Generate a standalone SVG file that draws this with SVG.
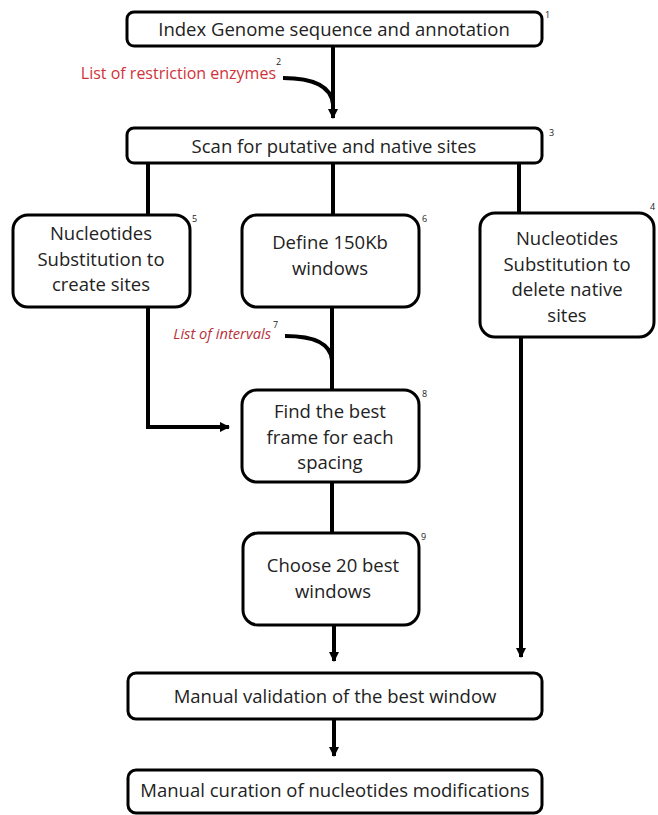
<svg xmlns="http://www.w3.org/2000/svg" width="658" height="815" viewBox="0 0 658 815">
<defs>
<marker id="ah" viewBox="0 0 10 10" refX="9" refY="5" markerWidth="2.6" markerHeight="2.6" orient="auto" markerUnits="strokeWidth">
<path d="M0,0 L10,5 L0,10 z" fill="#000"/>
</marker>
<style>
.box{fill:#fff;stroke:#000;stroke-width:3}
.t{font-family:"Open Sans","Liberation Sans",sans-serif;font-size:18.5px;fill:#222;text-anchor:middle}
.sup{font-family:"Open Sans","Liberation Sans",sans-serif;font-size:9px;fill:#222}
.red{font-family:"Open Sans","Liberation Sans",sans-serif;font-size:16px;fill:#d0323a}
.redi{font-family:"Open Sans","Liberation Sans",sans-serif;font-size:14.7px;font-style:italic;fill:#b8323a}
.c{fill:none;stroke:#000;stroke-width:4}
</style>
</defs>
<rect width="658" height="815" fill="#fff"/>
<g id="connectors">
<path class="c" d="M333,46 V118" marker-end="url(#ah)"/>
<path class="c" d="M283,78 Q330,78 333,104"/>
<path class="c" d="M148,163 V215"/>
<path class="c" d="M333,163 V215"/>
<path class="c" d="M519,163 V213"/>
<path class="c" d="M148,307 V427 H229" marker-end="url(#ah)"/>
<path class="c" d="M332,307 V390"/>
<path class="c" d="M285,336 Q330,336 332,360"/>
<path class="c" d="M332,482 V533"/>
<path class="c" d="M334,625 V661" marker-end="url(#ah)"/>
<path class="c" d="M521,337 V657" marker-end="url(#ah)"/>
<path class="c" d="M334,719 V756" marker-end="url(#ah)"/>
</g>
<g id="n1">
<rect class="box" x="127" y="12" width="415" height="34" rx="7"/>
<text class="t" x="334" y="36">Index Genome sequence and annotation</text>
<text class="sup" x="545" y="18">1</text>
</g>
<g id="n2">
<text class="red" x="276" y="79" text-anchor="end">List of restriction enzymes</text>
<text class="sup" x="276" y="65">2</text>
</g>
<g id="n3">
<rect class="box" x="127" y="128" width="415" height="35" rx="7"/>
<text class="t" x="334" y="153">Scan for putative and native sites</text>
<text class="sup" x="549" y="136">3</text>
</g>
<g id="n4">
<rect class="box" x="480" y="213" width="174" height="124" rx="15"/>
<text class="t" x="567" y="245">Nucleotides</text>
<text class="t" x="567" y="271">Substitution to</text>
<text class="t" x="567" y="296">delete native</text>
<text class="t" x="567" y="322">sites</text>
<text class="sup" x="650" y="210">4</text>
</g>
<g id="n5">
<rect class="box" x="13" y="215" width="177" height="92" rx="15"/>
<text class="t" x="101" y="240">Nucleotides</text>
<text class="t" x="101" y="266">Substitution to</text>
<text class="t" x="101" y="291">create sites</text>
<text class="sup" x="192" y="222">5</text>
</g>
<g id="n6">
<rect class="box" x="242" y="215" width="177" height="92" rx="15"/>
<text class="t" x="330" y="249">Define 150Kb</text>
<text class="t" x="330" y="275">windows</text>
<text class="sup" x="422" y="222">6</text>
</g>
<g id="n7">
<text class="redi" x="271" y="339" text-anchor="end">List of intervals</text>
<text class="sup" x="273" y="328">7</text>
</g>
<g id="n8">
<rect class="box" x="242" y="390" width="177" height="92" rx="15"/>
<text class="t" x="330" y="418">Find the best</text>
<text class="t" x="330" y="444">frame for each</text>
<text class="t" x="330" y="469">spacing</text>
<text class="sup" x="422" y="397">8</text>
</g>
<g id="n9">
<rect class="box" x="243" y="533" width="176" height="92" rx="15"/>
<text class="t" x="333" y="572">Choose 20 best</text>
<text class="t" x="333" y="598">windows</text>
<text class="sup" x="421" y="540">9</text>
</g>
<g id="n10">
<rect class="box" x="128" y="673" width="414" height="46" rx="8"/>
<text class="t" x="335" y="703">Manual validation of the best window</text>
</g>
<g id="n11">
<rect class="box" x="128" y="770" width="414" height="43" rx="8"/>
<text class="t" x="335" y="797">Manual curation of nucleotides modifications</text>
</g>
</svg>
